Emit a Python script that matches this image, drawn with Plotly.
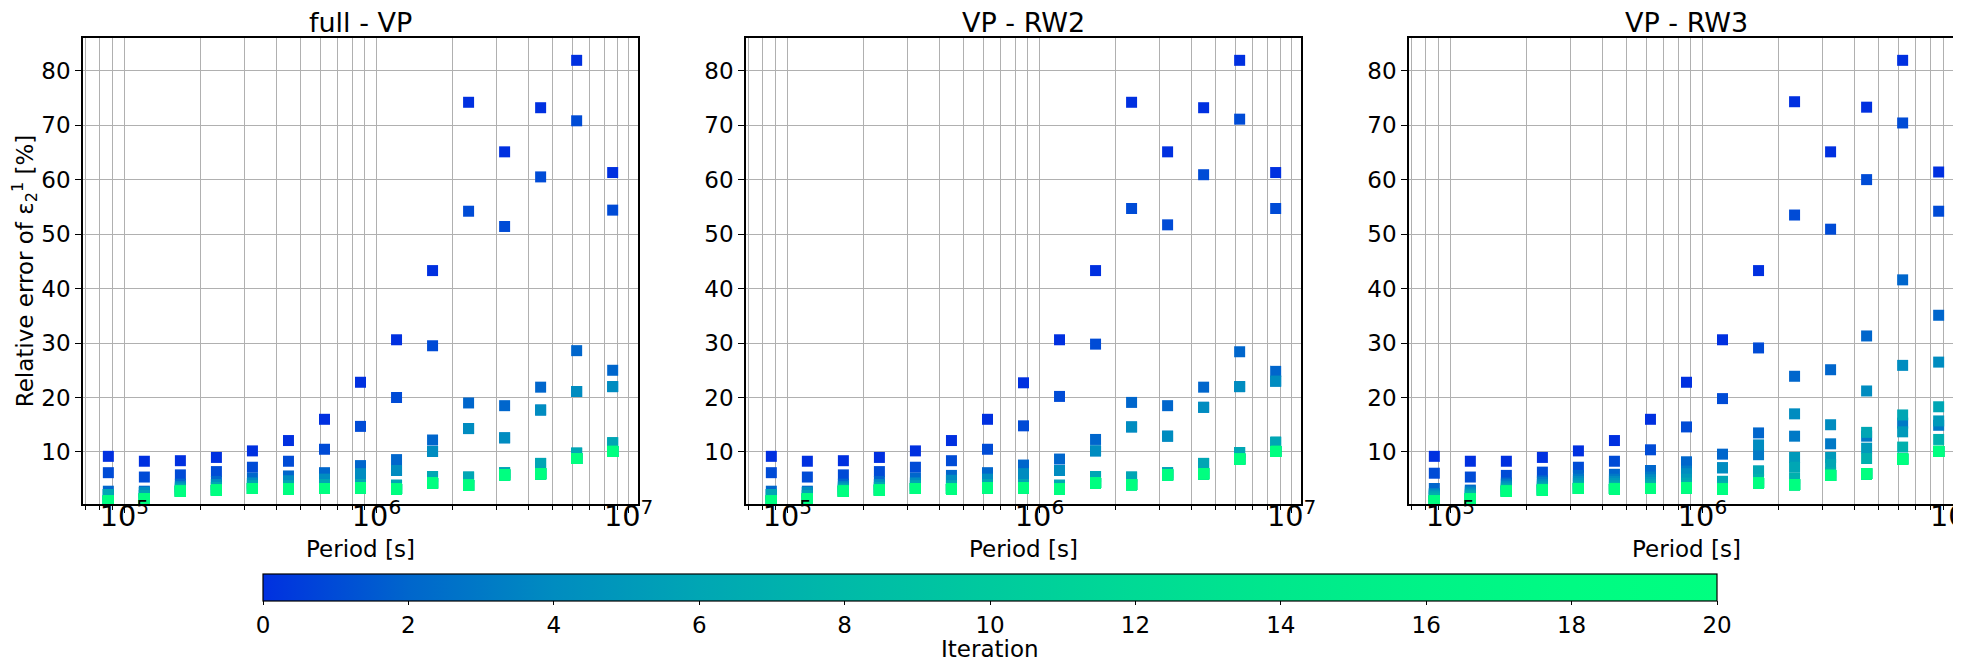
import plotly.graph_objects as go
from plotly.subplots import make_subplots

# periods of the 15 frequencies [s]
PERIODS = [86400, 120053, 166810, 231788, 322063, 447510, 621815, 864000,
           1200530, 1668100, 2317880, 3220630, 4475100, 6218150, 8640000]

ITERATIONS = [0, 1, 2, 3, 4, 5, 6, 7, 8, 9, 10,
              11, 12, 13, 14, 15, 16, 17, 18, 19, 20]

PANEL_TITLES = ["full - VP", "VP - RW2", "VP - RW3"]

# relative error [%], one row per iteration (0..20), one value per period
FULL_VP = [
    [9.2, 8.3, 8.4, 9.0, 10.2, 12.1, 16.0, 22.8, 30.6, 43.3, 74.2, 65.1, 73.2, 81.9, 61.3],
    [6.2, 5.4, 5.8, 6.4, 7.2, 8.3, 10.5, 14.7, 20.0, 29.5, 54.2, 51.4, 60.5, 70.8, 54.4],
    [2.8, 2.8, 4.1, 4.6, 5.2, 5.6, 6.2, 7.5, 8.6, 12.2, 19.0, 18.5, 21.9, 28.6, 25.0],
    [2.2, 2.6, 3.6, 4.0, 4.3, 4.7, 5.0, 6.0, 6.6, 10.1, 14.3, 12.6, 17.7, 21.1, 22.0],
    [2.2, 2.6, 3.6, 4.0, 4.3, 4.7, 5.0, 6.0, 6.6, 10.1, 14.3, 12.6, 17.7, 21.1, 22.0],
    [2.2, 2.0, 3.2, 3.5, 3.8, 3.8, 4.0, 4.0, 3.9, 5.5, 5.4, 6.2, 7.9, 9.8, 11.7],
    [2.2, 2.0, 3.2, 3.5, 3.8, 3.8, 4.0, 4.0, 3.9, 5.5, 5.4, 6.2, 7.9, 9.8, 11.7],
    [1.0, 1.4, 2.8, 3.0, 3.3, 3.2, 3.3, 3.4, 3.2, 4.3, 3.9, 5.8, 6.0, 8.8, 10.1],
    [1.0, 1.4, 2.8, 3.0, 3.3, 3.2, 3.3, 3.4, 3.2, 4.3, 3.9, 5.8, 6.0, 8.8, 10.1],
    [1.0, 1.4, 2.8, 3.0, 3.3, 3.2, 3.3, 3.4, 3.2, 4.3, 3.9, 5.8, 6.0, 8.8, 10.1],
    [1.0, 1.4, 2.8, 3.0, 3.3, 3.2, 3.3, 3.4, 3.2, 4.3, 3.9, 5.8, 6.0, 8.8, 10.1],
    [1.0, 1.4, 2.8, 3.0, 3.3, 3.2, 3.3, 3.4, 3.2, 4.3, 3.9, 5.8, 6.0, 8.8, 10.1],
    [1.0, 1.4, 2.8, 3.0, 3.3, 3.2, 3.3, 3.4, 3.2, 4.3, 3.9, 5.8, 6.0, 8.8, 10.1],
    [1.0, 1.4, 2.8, 3.0, 3.3, 3.2, 3.3, 3.4, 3.2, 4.3, 3.9, 5.8, 6.0, 8.8, 10.1],
    [1.0, 1.4, 2.8, 3.0, 3.3, 3.2, 3.3, 3.4, 3.2, 4.3, 3.9, 5.8, 6.0, 8.8, 10.1],
    [1.0, 1.4, 2.8, 3.0, 3.3, 3.2, 3.3, 3.4, 3.2, 4.3, 3.9, 5.8, 6.0, 8.8, 10.1],
    [1.0, 1.4, 2.8, 3.0, 3.3, 3.2, 3.3, 3.4, 3.2, 4.3, 3.9, 5.8, 6.0, 8.8, 10.1],
    [1.0, 1.4, 2.8, 3.0, 3.3, 3.2, 3.3, 3.4, 3.2, 4.3, 3.9, 5.8, 6.0, 8.8, 10.1],
    [1.0, 1.4, 2.8, 3.0, 3.3, 3.2, 3.3, 3.4, 3.2, 4.3, 3.9, 5.8, 6.0, 8.8, 10.1],
    [1.0, 1.4, 2.8, 3.0, 3.3, 3.2, 3.3, 3.4, 3.2, 4.3, 3.9, 5.8, 6.0, 8.8, 10.1],
    [1.0, 1.4, 2.8, 3.0, 3.3, 3.2, 3.3, 3.4, 3.2, 4.3, 3.9, 5.8, 6.0, 8.8, 10.1],
]

VP_RW2 = [
    [9.2, 8.3, 8.4, 9.0, 10.2, 12.1, 16.0, 22.7, 30.6, 43.3, 74.2, 65.1, 73.2, 81.9, 61.3],
    [6.2, 5.4, 5.8, 6.4, 7.2, 8.4, 10.5, 14.8, 20.2, 29.8, 54.7, 51.7, 60.9, 71.1, 54.7],
    [2.8, 2.8, 4.1, 4.6, 5.2, 5.7, 6.2, 7.6, 8.7, 12.3, 19.1, 18.5, 21.9, 28.4, 24.8],
    [2.2, 2.6, 3.6, 4.0, 4.3, 4.8, 5.0, 6.0, 6.6, 10.2, 14.6, 12.9, 18.2, 22.0, 23.0],
    [2.2, 2.6, 3.6, 4.0, 4.3, 4.8, 5.0, 6.0, 6.6, 10.2, 14.6, 12.9, 18.2, 22.0, 23.0],
    [2.2, 2.0, 3.2, 3.5, 3.8, 3.8, 4.0, 4.0, 3.9, 5.5, 5.4, 6.2, 7.9, 9.9, 11.8],
    [2.2, 2.0, 3.2, 3.5, 3.8, 3.8, 4.0, 4.0, 3.9, 5.5, 5.4, 6.2, 7.9, 9.9, 11.8],
    [1.0, 1.4, 2.8, 3.0, 3.3, 3.2, 3.4, 3.4, 3.2, 4.3, 4.0, 5.8, 6.0, 8.7, 10.1],
    [1.0, 1.4, 2.8, 3.0, 3.3, 3.2, 3.4, 3.4, 3.2, 4.3, 4.0, 5.8, 6.0, 8.7, 10.1],
    [1.0, 1.4, 2.8, 3.0, 3.3, 3.2, 3.4, 3.4, 3.2, 4.3, 4.0, 5.8, 6.0, 8.7, 10.1],
    [1.0, 1.4, 2.8, 3.0, 3.3, 3.2, 3.4, 3.4, 3.2, 4.3, 4.0, 5.8, 6.0, 8.7, 10.1],
    [1.0, 1.4, 2.8, 3.0, 3.3, 3.2, 3.4, 3.4, 3.2, 4.3, 4.0, 5.8, 6.0, 8.7, 10.1],
    [1.0, 1.4, 2.8, 3.0, 3.3, 3.2, 3.4, 3.4, 3.2, 4.3, 4.0, 5.8, 6.0, 8.7, 10.1],
    [1.0, 1.4, 2.8, 3.0, 3.3, 3.2, 3.4, 3.4, 3.2, 4.3, 4.0, 5.8, 6.0, 8.7, 10.1],
    [1.0, 1.4, 2.8, 3.0, 3.3, 3.2, 3.4, 3.4, 3.2, 4.3, 4.0, 5.8, 6.0, 8.7, 10.1],
    [1.0, 1.4, 2.8, 3.0, 3.3, 3.2, 3.4, 3.4, 3.2, 4.3, 4.0, 5.8, 6.0, 8.7, 10.1],
    [1.0, 1.4, 2.8, 3.0, 3.3, 3.2, 3.4, 3.4, 3.2, 4.3, 4.0, 5.8, 6.0, 8.7, 10.1],
    [1.0, 1.4, 2.8, 3.0, 3.3, 3.2, 3.4, 3.4, 3.2, 4.3, 4.0, 5.8, 6.0, 8.7, 10.1],
    [1.0, 1.4, 2.8, 3.0, 3.3, 3.2, 3.4, 3.4, 3.2, 4.3, 4.0, 5.8, 6.0, 8.7, 10.1],
    [1.0, 1.4, 2.8, 3.0, 3.3, 3.2, 3.4, 3.4, 3.2, 4.3, 4.0, 5.8, 6.0, 8.7, 10.1],
    [1.0, 1.4, 2.8, 3.0, 3.3, 3.2, 3.4, 3.4, 3.2, 4.3, 4.0, 5.8, 6.0, 8.7, 10.1],
]

VP_RW3 = [
    [9.2, 8.3, 8.3, 9.0, 10.2, 12.1, 16.0, 22.8, 30.6, 43.3, 74.3, 65.1, 73.3, 81.9, 61.4],
    [6.1, 5.4, 5.7, 6.3, 7.2, 8.3, 10.4, 14.6, 19.8, 29.1, 53.5, 50.9, 60.0, 70.4, 54.2],
    [3.3, 3.0, 4.3, 4.7, 5.7, 5.9, 6.6, 8.2, 9.6, 13.5, 23.9, 25.1, 31.3, 41.6, 35.1],
    [2.3, 2.8, 4.0, 4.4, 5.0, 5.0, 5.4, 6.5, 7.1, 9.5, 12.9, 11.5, 12.9, 15.3, 14.9],
    [2.3, 2.5, 3.7, 4.0, 4.6, 4.6, 4.9, 6.0, 7.1, 11.3, 17.0, 15.0, 21.2, 25.9, 26.5],
    [2.0, 2.2, 3.4, 3.7, 4.2, 4.2, 4.4, 5.0, 4.6, 6.5, 9.0, 9.0, 10.7, 13.7, 15.7],
    [1.8, 2.0, 3.2, 3.4, 3.8, 3.8, 4.0, 4.3, 4.6, 6.5, 7.2, 7.7, 13.6, 16.8, 18.3],
    [1.5, 1.8, 3.0, 3.2, 3.5, 3.5, 3.6, 3.8, 3.6, 5.0, 5.2, 6.2, 8.8, 10.9, 12.3],
    [1.0, 1.4, 2.8, 3.0, 3.3, 3.2, 3.3, 3.4, 3.2, 4.3, 4.0, 5.7, 6.0, 8.7, 10.1],
    [1.0, 1.4, 2.8, 3.0, 3.3, 3.2, 3.3, 3.4, 3.2, 4.3, 4.0, 5.7, 6.0, 8.7, 10.1],
    [1.0, 1.4, 2.8, 3.0, 3.3, 3.2, 3.3, 3.4, 3.2, 4.3, 4.0, 5.7, 6.0, 8.7, 10.1],
    [1.0, 1.4, 2.8, 3.0, 3.3, 3.2, 3.3, 3.4, 3.2, 4.3, 4.0, 5.7, 6.0, 8.7, 10.1],
    [1.0, 1.4, 2.8, 3.0, 3.3, 3.2, 3.3, 3.4, 3.2, 4.3, 4.0, 5.7, 6.0, 8.7, 10.1],
    [1.0, 1.4, 2.8, 3.0, 3.3, 3.2, 3.3, 3.4, 3.2, 4.3, 4.0, 5.7, 6.0, 8.7, 10.1],
    [1.0, 1.4, 2.8, 3.0, 3.3, 3.2, 3.3, 3.4, 3.2, 4.3, 4.0, 5.7, 6.0, 8.7, 10.1],
    [1.0, 1.4, 2.8, 3.0, 3.3, 3.2, 3.3, 3.4, 3.2, 4.3, 4.0, 5.7, 6.0, 8.7, 10.1],
    [1.0, 1.4, 2.8, 3.0, 3.3, 3.2, 3.3, 3.4, 3.2, 4.3, 4.0, 5.7, 6.0, 8.7, 10.1],
    [1.0, 1.4, 2.8, 3.0, 3.3, 3.2, 3.3, 3.4, 3.2, 4.3, 4.0, 5.7, 6.0, 8.7, 10.1],
    [1.0, 1.4, 2.8, 3.0, 3.3, 3.2, 3.3, 3.4, 3.2, 4.3, 4.0, 5.7, 6.0, 8.7, 10.1],
    [1.0, 1.4, 2.8, 3.0, 3.3, 3.2, 3.3, 3.4, 3.2, 4.3, 4.0, 5.7, 6.0, 8.7, 10.1],
    [1.0, 1.4, 2.8, 3.0, 3.3, 3.2, 3.3, 3.4, 3.2, 4.3, 4.0, 5.7, 6.0, 8.7, 10.1],
]

PANELS = [FULL_VP, VP_RW2, VP_RW3]

# blue -> green, like matplotlib "winter"
WINTER = [
    [0.0, "#0030e0"], [0.1, "#0066cc"], [0.2, "#008cc0"], [0.3, "#00a6b4"],
    [0.4, "#00baa8"], [0.5, "#00ca9e"], [0.6, "#00da95"], [0.7, "#00e88c"],
    [0.8, "#00f387"], [0.9, "#00fb83"], [1.0, "#00ff80"],
]

FONT = "DejaVu Sans"
GRID = "#b0b0b0"
TICK_SIZE = 23
LABEL_SIZE = 23
TITLE_SIZE = 27

fig = make_subplots(rows=1, cols=3, subplot_titles=PANEL_TITLES,
                    horizontal_spacing=0.0574)

for col, rows in enumerate(PANELS, start=1):
    xs, ys, cs = [], [], []
    for it, row in zip(ITERATIONS, rows):
        xs += PERIODS
        ys += row
        cs += [it] * len(row)
    fig.add_trace(
        go.Scatter(
            x=xs, y=ys, mode="markers", showlegend=False,
            marker=dict(symbol="square", size=11, color=cs,
                        coloraxis="coloraxis", line=dict(width=0)),
        ),
        row=1, col=col,
    )

fig.update_xaxes(
    type="log", range=[4.836, 7.037], dtick=1,
    exponentformat="power", showexponent="all",
    showline=True, linecolor="black", linewidth=1.5, mirror=True,
    ticks="outside", ticklen=7, tickwidth=1.2, tickcolor="black",
    showgrid=True, gridcolor=GRID, gridwidth=1.2,
    minor=dict(ticks="outside", ticklen=4, tickwidth=1, tickcolor="black",
               showgrid=True, gridcolor=GRID, gridwidth=1.2),
    tickfont=dict(size=TICK_SIZE, color="black"),
    ticklabelstandoff=-20, ticklabeloverflow="allow",
    zeroline=False, automargin=False,
)
fig.update_yaxes(
    range=[0.45, 86], tick0=0, dtick=10,
    showline=True, linecolor="black", linewidth=1.5, mirror=True,
    ticks="outside", ticklen=6, tickwidth=1.2, tickcolor="black",
    showgrid=True, gridcolor=GRID, gridwidth=1.2,
    tickfont=dict(size=TICK_SIZE, color="black"),
    zeroline=False, automargin=False,
)
fig.update_yaxes(
    title=dict(text="Relative error of ε<sub>2</sub><sup>1</sup> [%]",
               font=dict(size=LABEL_SIZE, color="black"), standoff=6),
    row=1, col=1,
)

for ann in fig.layout.annotations:
    ann.font = dict(size=TITLE_SIZE, color="black", family=FONT)
    ann.yshift = -2

# x labels under each panel
for ax in ["xaxis", "xaxis2", "xaxis3"]:
    d0, d1 = fig.layout[ax].domain
    fig.add_annotation(
        text="Period [s]", xref="paper", yref="paper",
        x=(d0 + d1) / 2, y=-0.097, xanchor="center", yanchor="middle",
        showarrow=False, font=dict(size=LABEL_SIZE, color="black", family=FONT),
    )

# colorbar label
fig.add_annotation(
    text="Iteration", xref="paper", yref="paper",
    x=0.4822, y=-0.311, xanchor="center", yanchor="middle",
    showarrow=False, font=dict(size=LABEL_SIZE, color="black", family=FONT),
)

fig.update_layout(
    width=1961, height=658,
    margin=dict(l=75, r=5, t=30, b=162, autoexpand=False),
    paper_bgcolor="white", plot_bgcolor="white",
    font=dict(family=FONT, color="black"),
    coloraxis=dict(
        colorscale=WINTER, cmin=0, cmax=20,
        colorbar=dict(
            orientation="h", x=0.4822, xanchor="center",
            y=-0.1502, yanchor="top",
            len=1454, lenmode="pixels", thickness=27,
            xpad=0, ypad=0,
            outlinewidth=1.2, outlinecolor="black",
            ticks="outside", ticklen=4, tickcolor="black",
            tick0=0, dtick=2,
            tickfont=dict(size=TICK_SIZE, color="black"),
        ),
    ),
)

fig.write_html("out.html")
